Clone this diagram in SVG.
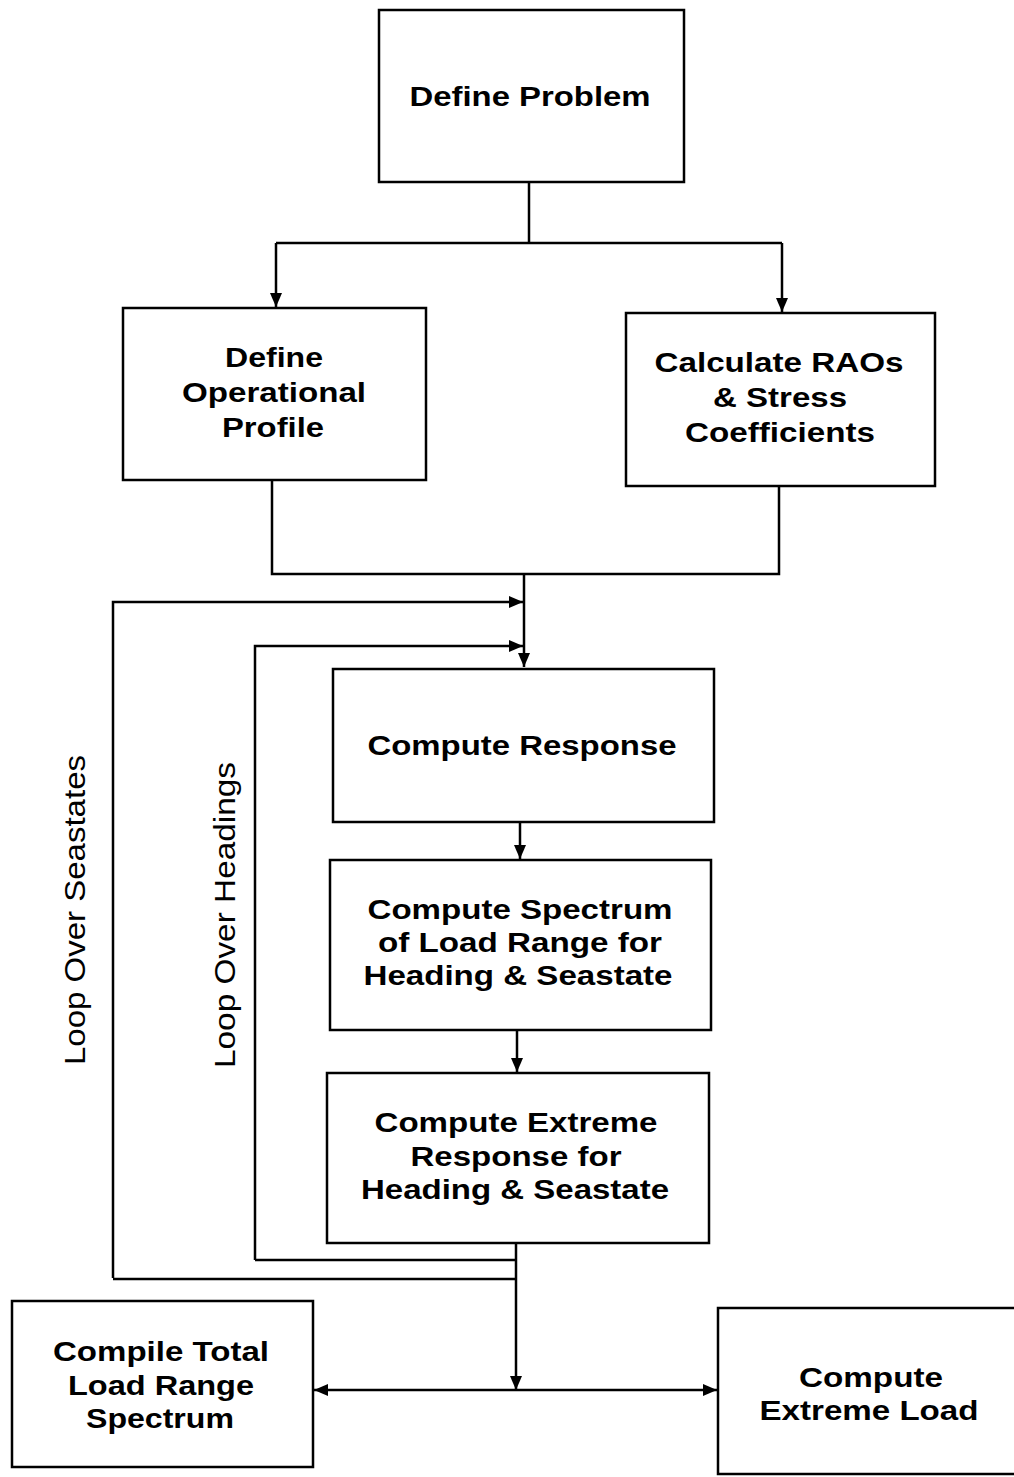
<svg xmlns="http://www.w3.org/2000/svg" width="1014" height="1477" viewBox="0 0 1014 1477">
<defs>
<marker id="ah" viewBox="0 0 14 12" refX="14" refY="6" markerWidth="14" markerHeight="12" markerUnits="userSpaceOnUse" orient="auto">
<path d="M0,0 L14,6 L0,12 Z" fill="#000"/>
</marker>
</defs>
<style>
.box{fill:#fff;stroke:#000;stroke-width:2.5}
.ln{fill:none;stroke:#000;stroke-width:2.5}
.t{font-family:"Liberation Sans",Arial,sans-serif;font-size:27px;font-weight:bold;text-anchor:middle;fill:#000}
.lp{font-family:"Liberation Sans",Arial,sans-serif;font-size:29px;text-anchor:middle;fill:#000}
</style>
<rect width="1014" height="1477" fill="#fff"/>
<g id="connectors">
<path class="ln" d="M529,182 V243"/>
<path class="ln" d="M276,243 H782"/>
<path class="ln" d="M276,243 V307" marker-end="url(#ah)"/>
<path class="ln" d="M782,243 V312" marker-end="url(#ah)"/>
<path class="ln" d="M272,480 V574 H779 V486"/>
<path class="ln" d="M524,574 V667" marker-end="url(#ah)"/>
<path class="ln" d="M113,1278 V602 H523" marker-end="url(#ah)"/>
<path class="ln" d="M255,1260 V646 H523" marker-end="url(#ah)"/>
<path class="ln" d="M516,1260 H255"/>
<path class="ln" d="M516,1279 H113"/>
<path class="ln" d="M520,822 V859" marker-end="url(#ah)"/>
<path class="ln" d="M517,1030 V1072" marker-end="url(#ah)"/>
<path class="ln" d="M516,1243 V1390" marker-end="url(#ah)"/>
<path class="ln" d="M516,1390 H314" marker-end="url(#ah)"/>
<path class="ln" d="M516,1390 H717" marker-end="url(#ah)"/>
</g>
<g id="define-problem">
<rect class="box" x="379" y="10" width="305" height="172"/>
<text class="t" x="530" y="106" textLength="241" lengthAdjust="spacingAndGlyphs">Define Problem</text>
</g>
<g id="define-operational-profile">
<rect class="box" x="123" y="308" width="303" height="172"/>
<text class="t" x="274" y="367" textLength="98" lengthAdjust="spacingAndGlyphs">Define</text>
<text class="t" x="274" y="402" textLength="184" lengthAdjust="spacingAndGlyphs">Operational</text>
<text class="t" x="273" y="437" textLength="102" lengthAdjust="spacingAndGlyphs">Profile</text>
</g>
<g id="calculate-raos">
<rect class="box" x="626" y="313" width="309" height="173"/>
<text class="t" x="779" y="372" textLength="249" lengthAdjust="spacingAndGlyphs">Calculate RAOs</text>
<text class="t" x="780" y="407" textLength="134" lengthAdjust="spacingAndGlyphs">&amp; Stress</text>
<text class="t" x="780" y="442" textLength="190" lengthAdjust="spacingAndGlyphs">Coefficients</text>
</g>
<g id="compute-response">
<rect class="box" x="333" y="669" width="381" height="153"/>
<text class="t" x="522" y="755" textLength="309" lengthAdjust="spacingAndGlyphs">Compute Response</text>
</g>
<g id="compute-spectrum">
<rect class="box" x="330" y="860" width="381" height="170"/>
<text class="t" x="520" y="919" textLength="305" lengthAdjust="spacingAndGlyphs">Compute Spectrum</text>
<text class="t" x="520" y="952" textLength="284" lengthAdjust="spacingAndGlyphs">of Load Range for</text>
<text class="t" x="518" y="985" textLength="309" lengthAdjust="spacingAndGlyphs">Heading &amp; Seastate</text>
</g>
<g id="compute-extreme-response">
<rect class="box" x="327" y="1073" width="382" height="170"/>
<text class="t" x="516" y="1132" textLength="283" lengthAdjust="spacingAndGlyphs">Compute Extreme</text>
<text class="t" x="516" y="1166" textLength="211" lengthAdjust="spacingAndGlyphs">Response for</text>
<text class="t" x="515" y="1199" textLength="308" lengthAdjust="spacingAndGlyphs">Heading &amp; Seastate</text>
</g>
<g id="compile-total">
<rect class="box" x="12" y="1301" width="301" height="166"/>
<text class="t" x="161" y="1361" textLength="216" lengthAdjust="spacingAndGlyphs">Compile Total</text>
<text class="t" x="161" y="1395" textLength="186" lengthAdjust="spacingAndGlyphs">Load Range</text>
<text class="t" x="160" y="1428" textLength="148" lengthAdjust="spacingAndGlyphs">Spectrum</text>
</g>
<g id="compute-extreme-load">
<rect class="box" x="718" y="1308" width="310" height="166"/>
<text class="t" x="871" y="1387" textLength="144" lengthAdjust="spacingAndGlyphs">Compute</text>
<text class="t" x="869" y="1420" textLength="219" lengthAdjust="spacingAndGlyphs">Extreme Load</text>
</g>
<g id="loop-labels">
<text class="lp" transform="translate(85,910) rotate(-90)" textLength="310" lengthAdjust="spacingAndGlyphs">Loop Over Seastates</text>
<text class="lp" transform="translate(235,915) rotate(-90)" textLength="306" lengthAdjust="spacingAndGlyphs">Loop Over Headings</text>
</g>
</svg>
